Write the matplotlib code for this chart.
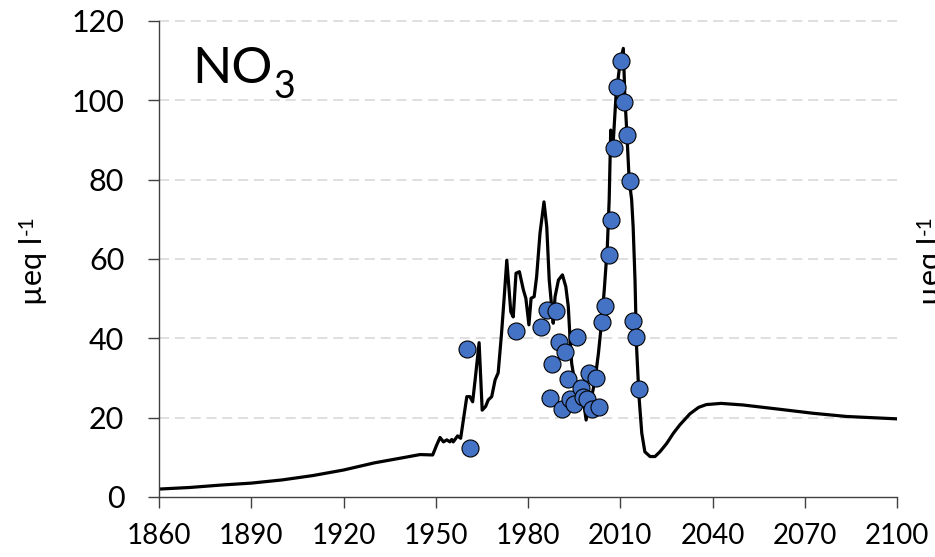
import matplotlib
matplotlib.use("Agg")
import matplotlib.pyplot as plt

# modelled NO3 series (line)
line_year = [1860, 1870, 1880, 1890, 1900, 1910, 1920, 1930, 1940, 1944.9,
             1949.0, 1950.3, 1951.4, 1952.5, 1953.6, 1954.6, 1955.2, 1955.7, 1957.1, 1958.1,
             1960.1, 1961.1, 1962.0, 1962.8, 1964.1, 1965.1, 1966.2, 1967.1, 1968.2, 1969.3,
             1970.3, 1971.4, 1972.2, 1973.1, 1974.4, 1975.2, 1976.1, 1977.2, 1978.5, 1979.3,
             1980.3, 1981.0, 1982.0, 1982.8, 1983.9, 1985.2, 1986.1, 1986.9, 1987.7, 1988.2,
             1988.8, 1989.9, 1991.2, 1992.3, 1993.1, 1993.7, 1994.2, 1995.0, 1995.8, 1998.0,
             1998.9, 1999.6, 2000.7, 2001.8, 2002.9, 2004.0, 2004.8, 2005.8, 2006.4, 2006.9,
             2007.7, 2008.6, 2009.9, 2011.0, 2011.5, 2012.1, 2012.9, 2013.7, 2014.2, 2014.8,
             2015.3, 2016.1, 2017.0, 2018.0, 2019.7, 2021.3, 2022.9, 2025.1, 2027.3, 2029.4,
             2032.7, 2035.5, 2038, 2042.8, 2049.9, 2062, 2072.8, 2083.6, 2100]
line_val = [2.0, 2.4, 3.0, 3.5, 4.3, 5.4, 6.8, 8.6, 10.0, 10.7,
            10.6, 13.1, 15.0, 13.9, 14.4, 13.9, 14.5, 13.9, 15.4, 14.8,
            25.3, 25.3, 24.0, 29.5, 38.9, 21.9, 22.8, 24.5, 25.3, 29.5,
            31.3, 41.3, 49.7, 59.7, 46.7, 45.4, 56.4, 56.8, 52.2, 50.1,
            43.4, 50.1, 50.5, 55.5, 66.5, 74.4, 68.1, 54.7, 48.0, 43.8,
            50.5, 54.7, 56.0, 53.0, 48.0, 39.6, 33.7, 29.9, 28.7, 24.5,
            19.4, 22.8, 25.3, 29.5, 36.2, 44.6, 52.2, 63.1, 74.9, 92.5,
            89.2, 100.9, 109.3, 113.1, 100.9, 92.5, 79.9, 75.0, 68.0, 54.7,
            37.9, 25.3, 16.1, 11.4, 10.2, 10.2, 11.4, 13.5, 16.1, 18.2,
            21.0, 22.6, 23.3, 23.6, 23.2, 22.1, 21.1, 20.3, 19.7]

# observations (points)
obs_year = [1960.2, 1961.0, 1976.1, 1984.1, 1986.1, 1987.2, 1987.9, 1989.1, 1990.1, 1991.0,
            1992.0, 1993.1, 1993.7, 1995.0, 1996.0, 1997.1, 1998.0, 1999.1, 1999.8, 2000.7,
            2002.1, 2003.1, 2004.1, 2005.0, 2006.2, 2007.0, 2008.0, 2009.0, 2010.1, 2011.2,
            2012.1, 2013.2, 2014.1, 2015.1, 2016.0]
obs_val = [37.3, 12.4, 41.9, 42.9, 47.1, 25.0, 33.5, 47.0, 39.0, 22.1,
           36.6, 29.7, 24.6, 23.4, 40.3, 27.6, 25.1, 24.6, 31.3, 22.1,
           29.9, 22.8, 44.0, 48.1, 60.9, 69.8, 87.9, 103.4, 110.0, 99.5,
           91.2, 79.7, 44.4, 40.3, 27.2]

x_ticks = [1860, 1890, 1920, 1950, 1980, 2010, 2040, 2070, 2100]
y_ticks = [0, 20, 40, 60, 80, 100, 120]

plt.rcParams["font.family"] = ["Lato", "DejaVu Sans"]

W, H = 935, 557
fig = plt.figure(figsize=(W / 100, H / 100), dpi=100)
ax = fig.add_axes([159 / W, 1 - 497 / H, (897 - 159) / W, (497 - 21) / H])

for y in y_ticks[1:]:
    ax.axhline(y, color="#d9d9d9", lw=1.2, ls=(0, (6, 3.5)), zorder=0, clip_on=False)

ax.plot(line_year, line_val, color="black", lw=2.3, zorder=2)
ax.scatter(obs_year, obs_val, s=150, color="#4472c4", edgecolor="black",
           linewidth=0.8, zorder=3, clip_on=False)

ax.set_xlim(1860, 2100)
ax.set_ylim(0, 120)
ax.set_xticks(x_ticks)
ax.set_yticks(y_ticks)
ax.tick_params(axis="x", labelsize=20, length=8, width=1, color="#404040", pad=11)
ax.tick_params(axis="y", labelsize=22, length=8, width=1, color="#404040", pad=17)
for s in ["top", "right"]:
    ax.spines[s].set_visible(False)
for s in ["left", "bottom"]:
    ax.spines[s].set_color("#404040")
    ax.spines[s].set_linewidth(1)


def unit_label(xc):
    # "µeq l" plus a raised "-1", both turned upright
    t = fig.text(xc / W, 1 - 305 / H, "\u00b5eq l", rotation=90, fontsize=22,
                 ha="center", va="bottom")
    fig.canvas.draw()
    bb = t.get_window_extent()
    fig.text((bb.x0 - 2) / W, (bb.y1 + 2) / H, "-1", rotation=90, fontsize=15,
             ha="left", va="bottom")


unit_label(33)
# label of the neighbouring panel, cut by the edge
unit_label(931)

no = fig.text(192 / W, 1 - 83 / H, "NO", fontsize=37, ha="left", va="baseline")
fig.canvas.draw()
bb = no.get_window_extent()
fig.text((bb.x1 + 1) / W, 1 - 98 / H, "3", fontsize=27, ha="left", va="baseline")

fig.savefig("out.png", dpi=100)
